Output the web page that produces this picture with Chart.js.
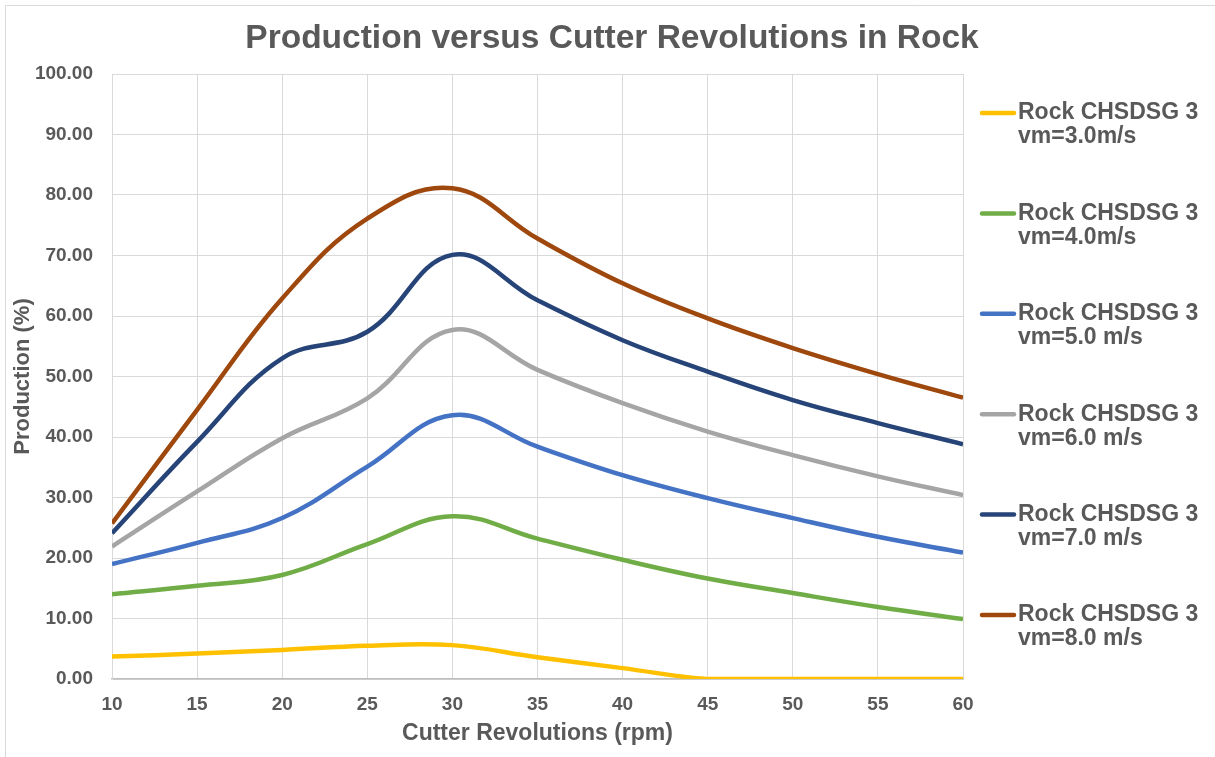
<!DOCTYPE html>
<html>
<head>
<meta charset="utf-8">
<script src="https://cdn.jsdelivr.net/npm/chart.js@4/dist/chart.umd.min.js"></script>
<style>
  html, body { margin: 0; padding: 0; background: #ffffff; }
  #wrap { position: relative; width: 1215px; height: 757px; }
</style>
</head>
<body>
<div id="wrap"><canvas id="c" width="1215" height="757"></canvas></div>
<script>
// ---- data ----
const rpm = [10, 15, 20, 25, 30, 35, 40, 45, 50, 55, 60];
const vm3 = [3.7, 4.2, 4.8, 5.5, 5.6, 3.6, 1.8, 0.0, 0.0, 0.0, 0.0];
const vm4 = [14.0, 15.4, 17.2, 22.3, 26.9, 23.2, 19.7, 16.6, 14.2, 11.9, 9.9];
const vm5 = [19.0, 22.5, 26.6, 35.1, 43.6, 38.4, 33.7, 29.9, 26.6, 23.5, 20.9];
const vm6 = [21.9, 31.0, 39.8, 46.4, 57.7, 51.1, 45.6, 40.9, 37.0, 33.5, 30.4];
const vm7 = [24.1, 39.2, 53.0, 57.4, 70.1, 62.6, 56.0, 50.8, 46.1, 42.3, 38.8];
const vm8 = [25.7, 44.5, 62.9, 76.1, 81.1, 72.8, 65.4, 59.6, 54.7, 50.4, 46.5];
const seriesLabels = [
  'Rock CHSDSG 3\nvm=3.0m/s',
  'Rock CHSDSG 3\nvm=4.0m/s',
  'Rock CHSDSG 3\nvm=5.0 m/s',
  'Rock CHSDSG 3\nvm=6.0 m/s',
  'Rock CHSDSG 3\nvm=7.0 m/s',
  'Rock CHSDSG 3\nvm=8.0 m/s'
];
const seriesValues = [vm3, vm4, vm5, vm6, vm7, vm8];
const seriesColors = ['#FFC000', '#70AD47', '#4472C4', '#A5A5A5', '#264478', '#9E480E'];
const chartTitle = 'Production versus Cutter Revolutions in Rock';
const xTitle = 'Cutter Revolutions (rpm)';
const yTitle = 'Production (%)';

const TEXT = '#595959';
const FONT = '"Liberation Sans", Arial, sans-serif';

const datasets = seriesValues.map((vals, i) => ({
  label: seriesLabels[i],
  data: vals.map((v, j) => ({ x: rpm[j], y: v })),
  borderColor: seriesColors[i],
  backgroundColor: seriesColors[i],
  borderWidth: 4.5,
  pointRadius: 0,
  tension: 0.4,
  fill: false
}));

const frameTitleLegend = {
  id: 'frameTitleLegend',
  beforeDraw(chart) {
    const ctx = chart.ctx;
    ctx.save();
    ctx.strokeStyle = '#d9d9d9';
    ctx.lineWidth = 1;
    ctx.beginPath();
    ctx.moveTo(5.5, 757);
    ctx.lineTo(5.5, 5.5);
    ctx.lineTo(1215, 5.5);
    ctx.stroke();
    ctx.restore();
  },
  afterDraw(chart) {
    const ctx = chart.ctx;
    ctx.save();
    // title, centred on the whole canvas
    ctx.font = 'bold 33.5px ' + FONT;
    ctx.fillStyle = TEXT;
    ctx.textAlign = 'center';
    ctx.textBaseline = 'middle';
    ctx.fillText(chartTitle, 612, 39);
    // legend
    ctx.font = 'bold 23px ' + FONT;
    ctx.textAlign = 'left';
    chart.data.datasets.forEach((ds, i) => {
      const y0 = 113 + i * 100.4;
      ctx.strokeStyle = ds.borderColor;
      ctx.lineWidth = 4.5;
      ctx.lineCap = 'round';
      ctx.beginPath();
      ctx.moveTo(982, y0);
      ctx.lineTo(1014, y0);
      ctx.stroke();
      const lines = ds.label.split('\n');
      lines.forEach((t, k) => ctx.fillText(t, 1018, y0 + k * 24));
    });
    ctx.restore();
  }
};

new Chart(document.getElementById('c'), {
  type: 'line',
  data: { datasets },
  plugins: [frameTitleLegend],
  options: {
    responsive: false,
    animation: false,
    events: [],
    layout: { padding: { left: 0, right: 252, top: 74, bottom: 0 } },
    plugins: {
      legend: { display: false },
      tooltip: { enabled: false },
      title: { display: false }
    },
    scales: {
      x: {
        type: 'linear',
        min: 10, max: 60,
        afterFit(s) { s.height = 78; },
        ticks: { stepSize: 5, color: TEXT, padding: 14, font: { family: FONT, size: 19, weight: 'bold' } },
        grid: { color: '#d9d9d9', lineWidth: 1, drawTicks: false },
        border: { color: '#bfbfbf', width: 1.5 },
        title: { display: true, text: xTitle, color: TEXT, font: { family: FONT, size: 23, weight: 'bold' }, padding: { top: 0, bottom: 10 } }
      },
      y: {
        min: 0, max: 100,
        afterFit(s) { s.width = 112; },
        ticks: { stepSize: 10, color: TEXT, padding: 19, font: { family: FONT, size: 19, weight: 'bold' }, callback: v => Number(v).toFixed(2) },
        grid: { color: '#d9d9d9', lineWidth: 1, drawTicks: false },
        border: { color: '#d9d9d9', width: 1 },
        title: { display: true, text: yTitle, color: TEXT, font: { family: FONT, size: 22, weight: 'bold' }, padding: { top: 10, bottom: 0 } }
      }
    }
  }
});
</script>
</body>
</html>
